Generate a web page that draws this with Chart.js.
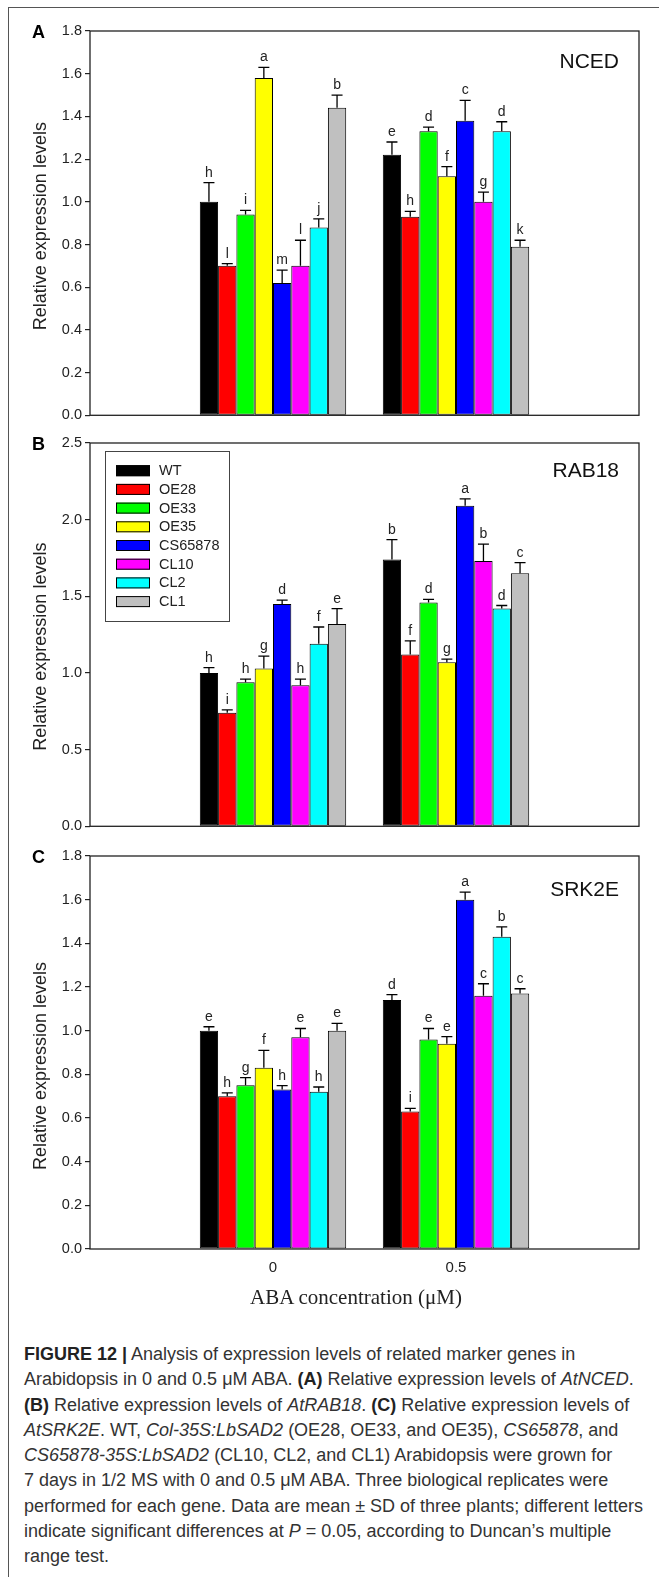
<!DOCTYPE html>
<html><head><meta charset="utf-8">
<script src="https://cdn.jsdelivr.net/npm/chart.js@4.4.1/dist/chart.umd.min.js"></script>
<style>
html,body{margin:0;padding:0;background:#fff;}
body{width:659px;height:1577px;position:relative;overflow:hidden;font-family:"Liberation Sans",Arial,sans-serif;}
#frame{position:absolute;left:8px;top:7px;width:700px;height:1650px;border-top:1px solid #555;border-left:1px solid #555;}
canvas{position:absolute;left:0;}
#xtitle{position:absolute;top:1285px;left:0;width:712px;text-align:center;font-family:"Liberation Serif","Times New Roman",serif;font-size:21px;line-height:24px;color:#222;}
#caption{position:absolute;left:24px;top:1342px;font-size:18px;line-height:25.3px;color:#333;white-space:nowrap;}
#caption b{color:#222;}
</style></head>
<body>
<div id="frame"></div>
<canvas id="cA" width="659" height="411" style="top:16px"></canvas>
<canvas id="cB" width="659" height="410" style="top:428px"></canvas>
<canvas id="cC" width="659" height="448" style="top:841px"></canvas>
<div id="xtitle">ABA concentration (μM)</div>
<div id="caption">
<div><b>FIGURE 12 |</b> Analysis of expression levels of related marker genes in</div>
<div>Arabidopsis in 0 and 0.5 μM ABA. <b>(A)</b> Relative expression levels of <i>AtNCED</i>.</div>
<div><b>(B)</b> Relative expression levels of <i>AtRAB18</i>. <b>(C)</b> Relative expression levels of</div>
<div><i>AtSRK2E</i>. WT, <i>Col-35S:LbSAD2</i> (OE28, OE33, and OE35), <i>CS65878</i>, and</div>
<div><i>CS65878-35S:LbSAD2</i> (CL10, CL2, and CL1) Arabidopsis were grown for</div>
<div>7 days in 1/2 MS with 0 and 0.5 μM ABA. Three biological replicates were</div>
<div>performed for each gene. Data are mean ± SD of three plants; different letters</div>
<div>indicate significant differences at <i>P</i> = 0.05, according to Duncan’s multiple</div>
<div>range test.</div>
</div>
<script>
// ---- data ----
const categories = ['0', '0.5'];
const lines = ['WT', 'OE28', 'OE33', 'OE35', 'CS65878', 'CL10', 'CL2', 'CL1'];
const lineColors = ['#000000', '#ff0000', '#00ff00', '#ffff00', '#0000ff', '#ff00ff', '#00ffff', '#c0c0c0'];

const ncedMean0  = [1.00, 0.70, 0.94, 1.58, 0.62, 0.70, 0.88, 1.44];
const ncedErr0   = [0.09, 0.01, 0.02, 0.05, 0.06, 0.12, 0.04, 0.06];
const ncedLet0   = ['h', 'l', 'i', 'a', 'm', 'l', 'j', 'b'];
const ncedMean05 = [1.22, 0.93, 1.33, 1.12, 1.38, 1.00, 1.33, 0.79];
const ncedErr05  = [0.06, 0.025, 0.02, 0.045, 0.095, 0.045, 0.045, 0.03];
const ncedLet05  = ['e', 'h', 'd', 'f', 'c', 'g', 'd', 'k'];

const rabMean0  = [1.00, 0.74, 0.94, 1.03, 1.45, 0.92, 1.19, 1.32];
const rabErr0   = [0.035, 0.02, 0.02, 0.08, 0.025, 0.04, 0.11, 0.10];
const rabLet0   = ['h', 'i', 'h', 'g', 'd', 'h', 'f', 'e'];
const rabMean05 = [1.74, 1.12, 1.46, 1.07, 2.09, 1.73, 1.42, 1.65];
const rabErr05  = [0.13, 0.09, 0.02, 0.02, 0.045, 0.11, 0.02, 0.07];
const rabLet05  = ['b', 'f', 'd', 'g', 'a', 'b', 'd', 'c'];

const srkMean0  = [1.00, 0.70, 0.75, 0.83, 0.73, 0.97, 0.72, 1.00];
const srkErr0   = [0.018, 0.015, 0.035, 0.08, 0.018, 0.04, 0.022, 0.033];
const srkLet0   = ['e', 'h', 'g', 'f', 'h', 'e', 'h', 'e'];
const srkMean05 = [1.14, 0.63, 0.96, 0.94, 1.60, 1.16, 1.43, 1.17];
const srkErr05  = [0.025, 0.014, 0.05, 0.033, 0.035, 0.055, 0.045, 0.022];
const srkLet05  = ['d', 'i', 'e', 'e', 'a', 'c', 'b', 'c'];

const ticksA = {max: 1.8, step: 0.2};
const ticksB = {max: 2.5, step: 0.5};
const ticksC = {max: 1.8, step: 0.2};

// ---- drawing ----
Chart.defaults.font.family = '"Liberation Sans", Arial, sans-serif';
Chart.defaults.color = '#222';
const FONT = '"Liberation Sans", Arial, sans-serif';

const decor = {
  id: 'decor',
  afterDatasetsDraw(chart, args, o) {
    const ctx = chart.ctx, ys = chart.scales.y;
    chart.data.datasets.forEach((ds, di) => {
      const meta = chart.getDatasetMeta(di);
      meta.data.forEach((bar, i) => {
        const v = ds.data[i];
        if (v == null) return;
        const top = ys.getPixelForValue(v + ds.err[i]);
        const base = ys.getPixelForValue(v);
        ctx.save();
        ctx.strokeStyle = '#000';
        ctx.lineWidth = 1.3;
        ctx.beginPath();
        ctx.moveTo(bar.x, base); ctx.lineTo(bar.x, top);
        ctx.moveTo(bar.x - 5.5, top); ctx.lineTo(bar.x + 5.5, top);
        ctx.stroke();
        ctx.fillStyle = '#222';
        ctx.font = '14px ' + FONT;
        ctx.textAlign = 'center';
        ctx.textBaseline = 'alphabetic';
        ctx.fillText(ds.letters[i], bar.x, top - 6);
        ctx.restore();
      });
    });
  },
  afterDraw(chart, args, o) {
    const ctx = chart.ctx, a = chart.chartArea;
    ctx.save();
    ctx.strokeStyle = '#222';
    ctx.lineWidth = 1.3;
    ctx.strokeRect(a.left, a.top, a.right - a.left, a.bottom - a.top);
    ctx.fillStyle = '#000';
    ctx.font = 'bold 18px ' + FONT;
    ctx.textAlign = 'left';
    ctx.textBaseline = 'middle';
    ctx.fillText(o.panel, 32, a.top + 2);
    ctx.fillStyle = '#111';
    ctx.font = '21px ' + FONT;
    ctx.textAlign = 'right';
    ctx.fillText(o.gene, a.right - 20, a.top + o.geneDy);
    ctx.save();
    ctx.translate(41.5, (a.top + a.bottom) / 2 + o.titleDy);
    ctx.rotate(-Math.PI / 2);
    ctx.font = '18px ' + FONT;
    ctx.textAlign = 'center';
    ctx.fillStyle = '#222';
    ctx.fillText('Relative expression levels', 0, 0);
    ctx.restore();
    if (o.legend) {
      const lx = a.left + 15, ly = a.top + 8;
      ctx.strokeStyle = '#444';
      ctx.lineWidth = 1;
      ctx.strokeRect(lx + 0.5, ly + 0.5, 124, 170);
      chart.data.datasets.forEach((ds, i) => {
        const cy = a.top + 27.7 + i * 18.7;
        ctx.fillStyle = ds.backgroundColor;
        ctx.fillRect(a.left + 26, cy - 5.5, 34, 11);
        ctx.strokeStyle = '#000';
        ctx.strokeRect(a.left + 26.5, cy - 5, 33, 10);
        ctx.fillStyle = '#222';
        ctx.font = '14.5px ' + FONT;
        ctx.textAlign = 'left';
        ctx.textBaseline = 'middle';
        ctx.fillText(ds.label, a.left + 69, cy + 0.5);
      });
    }
    ctx.restore();
  }
};

function makeChart(id, m0, e0, l0, m05, e05, l05, tk, deco, showX, bottomH) {
  const datasets = lines.map((name, i) => ({
    label: name,
    data: [null, m0[i], m05[i], null],
    err: [null, e0[i], e05[i], null],
    letters: ['', l0[i], l05[i], ''],
    backgroundColor: lineColors[i],
    borderColor: '#000',
    borderWidth: 1,
    borderSkipped: false,
    categoryPercentage: 0.8,
    barPercentage: 1.0
  }));
  return new Chart(document.getElementById(id), {
    type: 'bar',
    data: {labels: ['', ...categories, ''], datasets},
    options: {
      responsive: false,
      animation: false,
      devicePixelRatio: 1,
      layout: {padding: {top: 15, right: 20, left: 0, bottom: 0}},
      plugins: {legend: {display: false}, tooltip: {enabled: false}, decor: deco},
      scales: {
        x: {
          type: 'category',
          offset: false,
          grid: {display: false, drawTicks: false},
          border: {display: false},
          ticks: {display: showX, font: {size: 15}, padding: 10, color: '#222', maxRotation: 0, autoSkip: false},
          afterFit(s) { s.height = bottomH; }
        },
        y: {
          min: 0, max: tk.max,
          border: {display: false},
          grid: {display: true, drawOnChartArea: false, drawTicks: true, tickLength: 5, color: '#222', lineWidth: 1.2},
          ticks: {stepSize: tk.step, padding: 3, font: {size: 14.5}, color: '#222',
                  callback: v => Number(v).toFixed(1)},
          afterFit(s) { s.width = 90; }
        }
      }
    },
    plugins: [decor]
  });
}

makeChart('cA', ncedMean0, ncedErr0, ncedLet0, ncedMean05, ncedErr05, ncedLet05, ticksA,
  {panel: 'A', gene: 'NCED', geneDy: 31, titleDy: 3, legend: false}, false, 2);
makeChart('cB', rabMean0, rabErr0, rabLet0, rabMean05, rabErr05, rabLet05, ticksB,
  {panel: 'B', gene: 'RAB18', geneDy: 28, titleDy: 12, legend: true}, false, 2);
makeChart('cC', srkMean0, srkErr0, srkLet0, srkMean05, srkErr05, srkLet05, ticksC,
  {panel: 'C', gene: 'SRK2E', geneDy: 34, titleDy: 13.5, legend: false}, true, 40);
</script>
</body></html>
